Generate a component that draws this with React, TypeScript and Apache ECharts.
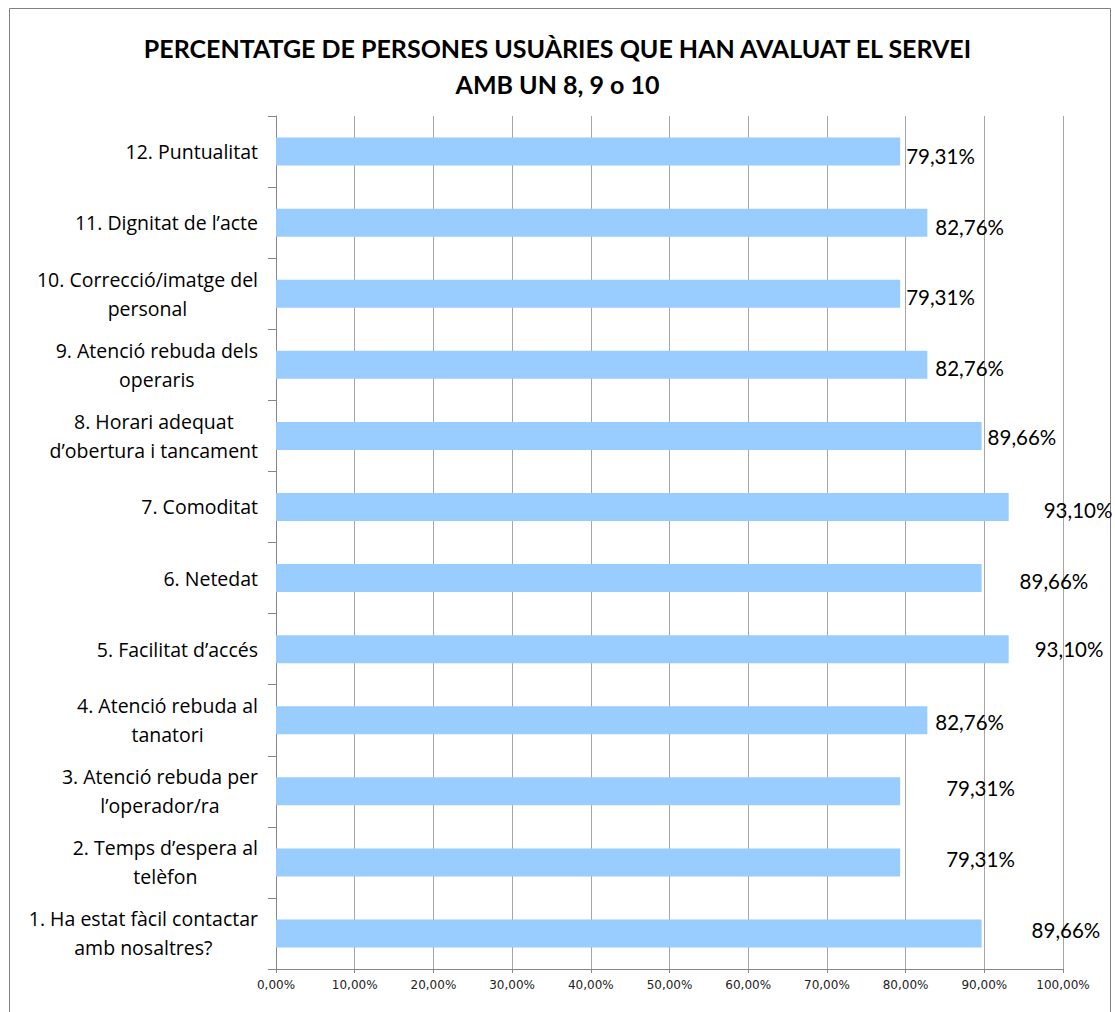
import React, { useEffect, useRef } from "react";
import * as echarts from "echarts";

const titleLines = [
  "PERCENTATGE DE PERSONES USUÀRIES QUE HAN AVALUAT EL SERVEI",
  "AMB UN 8, 9 o 10",
];

const categories = [
  "1. Ha estat fàcil contactar\namb nosaltres?",
  "2. Temps d’espera al\ntelèfon",
  "3. Atenció rebuda per\nl’operador/ra",
  "4. Atenció rebuda al\ntanatori",
  "5. Facilitat d’accés",
  "6. Netedat",
  "7. Comoditat",
  "8. Horari adequat\nd’obertura i tancament",
  "9. Atenció rebuda dels\noperaris",
  "10. Correcció/imatge del\npersonal",
  "11. Dignitat de l’acte",
  "12. Puntualitat",
];

const values = [89.66, 79.31, 79.31, 82.76, 93.1, 89.66, 93.1, 89.66, 82.76, 79.31, 82.76, 79.31];

const valueLabels = [
  "89,66%", "79,31%", "79,31%", "82,76%", "93,10%", "89,66%",
  "93,10%", "89,66%", "82,76%", "79,31%", "82,76%", "79,31%",
];

const xTicks = [0, 10, 20, 30, 40, 50, 60, 70, 80, 90, 100];

// label placement tweaks (dx, dy) copied from the reference layout
const labelOffsets: [number, number][] = [
  [50, -3], [46, -3], [46, -3], [8, 2], [26, 0], [38, 3],
  [35, 3], [6, 1], [8, 3], [6, 3], [8, 4], [6, 4],
];

export default function App() {
  const ref = useRef<HTMLDivElement>(null);
  useEffect(() => {
    if (!ref.current) return;
    const chart = echarts.init(ref.current, undefined, { renderer: "svg" });
    const labelFont = "Lato, 'Open Sans', sans-serif";
    chart.setOption({
      animation: false,
      backgroundColor: "#ffffff",
      title: {
        text: titleLines.join("\n"),
        left: "center",
        top: 25,
        textStyle: {
          fontFamily: labelFont,
          fontWeight: "bold",
          fontSize: 25,
          lineHeight: 36,
          color: "#000000",
        },
      },
      graphic: [
        {
          type: "rect",
          shape: { x: 9.5, y: 8.5, width: 1101, height: 1020 },
          style: { fill: "none", stroke: "#808080", lineWidth: 1 },
          silent: true,
        },
      ],
      grid: { left: 276, right: 52, top: 116, bottom: 43, containLabel: false },
      xAxis: {
        type: "value",
        min: 0,
        max: 100,
        interval: 10,
        axisLine: { show: true, lineStyle: { color: "#868686" } },
        axisTick: { show: true, length: 4, lineStyle: { color: "#868686" } },
        splitLine: { show: true, lineStyle: { color: "#a6a6a6", width: 1 } },
        axisLabel: {
          margin: 10,
          fontFamily: "'DejaVu Sans', Verdana, sans-serif",
          fontSize: 12,
          color: "#222222",
          formatter: (v: number) => {
            const i = xTicks.indexOf(v);
            return (i >= 0 ? xTicks[i] : v).toFixed(2).replace(".", ",") + "%";
          },
        },
      },
      yAxis: {
        type: "category",
        data: categories,
        axisLine: { show: true, lineStyle: { color: "#868686" } },
        axisTick: { show: true, length: 8, inside: false, lineStyle: { color: "#868686" } },
        splitLine: { show: false },
        axisLabel: {
          margin: 18,
          align: "right",
          formatter: (v: string) => v.split("\n").map((l) => "{c|" + l + "}").join("\n"),
          rich: {
            c: {
              align: "center",
              fontFamily: "'Open Sans', Lato, sans-serif",
              fontSize: 19.5,
              lineHeight: 29,
              color: "#000000",
            },
          },
        },
      },
      series: [
        {
          type: "bar",
          data: values.map((v, i) => ({
            value: v,
            label: {
              offset: labelOffsets[i],
              formatter: valueLabels[i],
            },
          })),
          barWidth: 28,
          itemStyle: { color: "#99ccff" },
          label: {
            show: true,
            position: "right",
            distance: 0,
            fontFamily: labelFont,
            fontSize: 20.5,
            color: "#000000",
          },
        },
      ],
    });
    return () => chart.dispose();
  }, []);
  return (
    <div
      ref={ref}
      style={{ position: "absolute", left: 0, top: 0, width: 1115, height: 1012 }}
    />
  );
}
